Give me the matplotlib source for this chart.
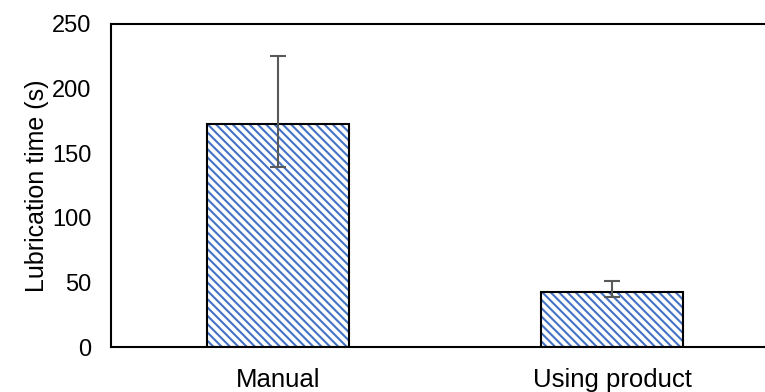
import matplotlib
matplotlib.use("Agg")
import matplotlib.pyplot as plt
import numpy as np

categories = ["Manual", "Using product"]
values = [172.6, 42.3]
err_upper = [225.2, 51.1]
err_lower = [139.1, 38.5]
yticks = [0, 50, 100, 150, 200, 250]

plt.rcParams['font.family'] = ['Liberation Sans', 'DejaVu Sans']
plt.rcParams['hatch.linewidth'] = 1.5

fig = plt.figure(figsize=(7.65, 3.92), dpi=100)
ax = fig.add_axes([111/765, 1-347/392, 668/765, 323/392])

x = np.arange(len(categories))
# hatched fill (blue diagonal lines)
ax.bar(x, values, width=0.425, color='white', edgecolor='#4472C4',
       linewidth=0, hatch='\\\\\\\\', zorder=2)
# black outline
ax.bar(x, values, width=0.425, fill=False, edgecolor='black',
       linewidth=1.5, zorder=2.5)
yerr = np.array([[v - l for v, l in zip(values, err_lower)],
                 [u - v for v, u in zip(values, err_upper)]])
ax.errorbar(x, values, yerr=yerr, fmt='none', ecolor='#595959',
            elinewidth=1.5, capsize=6, capthick=1.5, zorder=3)

ax.set_xlim(-0.5, 1.5)
ax.set_ylim(0, 250)
ax.set_yticks(yticks)
ax.set_xticks(x)
ax.set_xticklabels(categories)
ax.tick_params(axis='y', length=0, labelsize=17, pad=14)
ax.tick_params(axis='x', length=0, labelsize=18.5, pad=15)
ax.set_ylabel("Lubrication time (s)", fontsize=18, labelpad=2)
for s in ax.spines.values():
    s.set_linewidth(1.5)
    s.set_color('black')

fig.savefig("out.png", dpi=100)
